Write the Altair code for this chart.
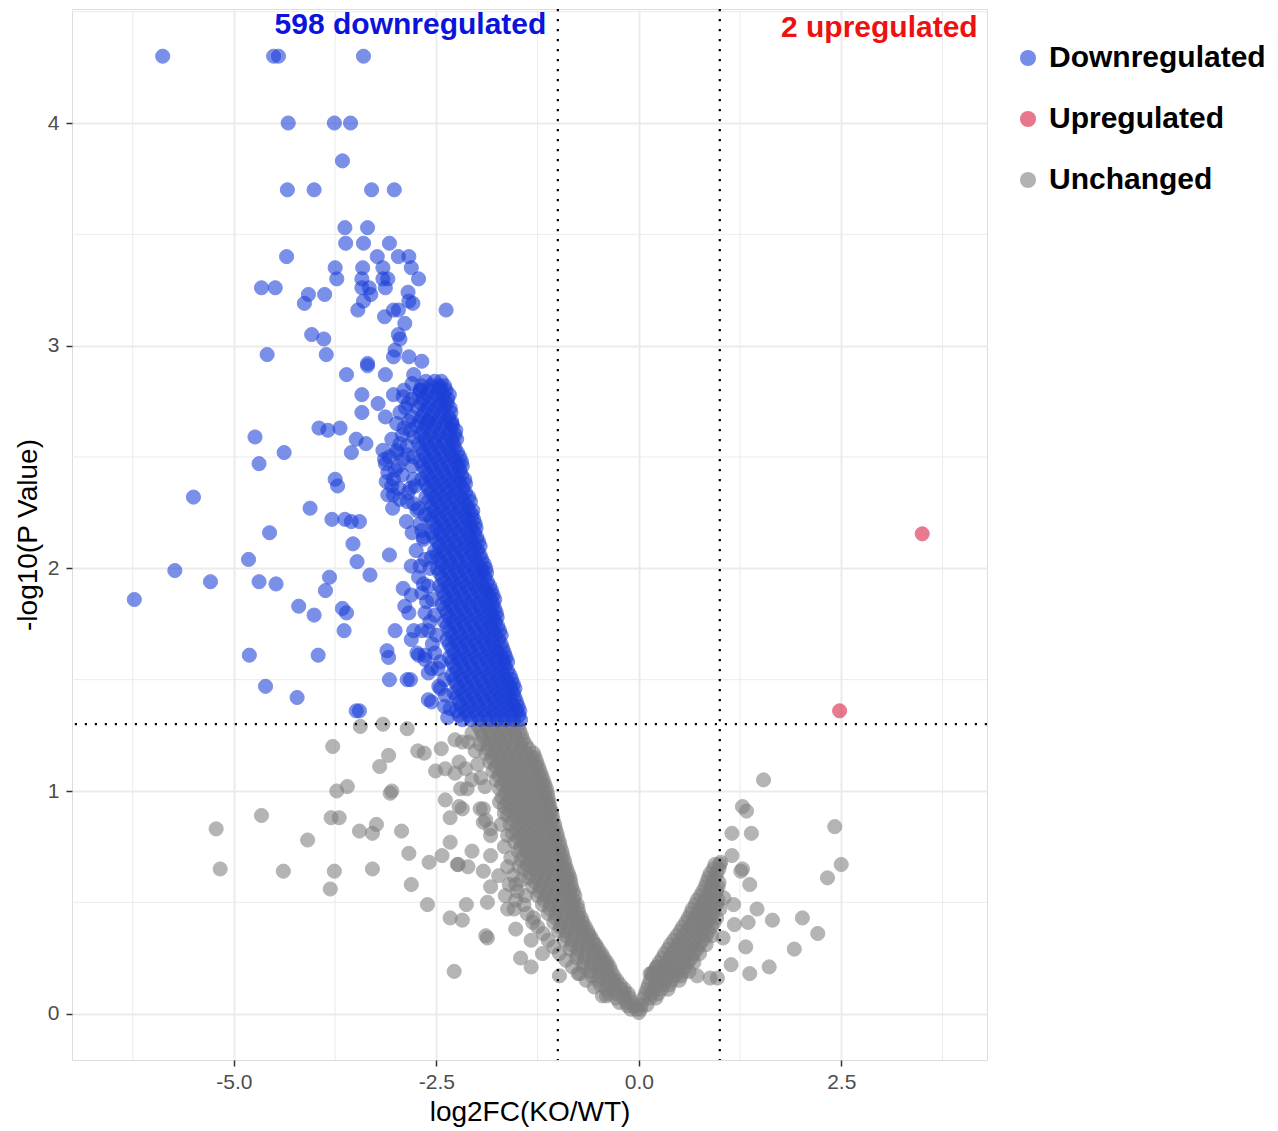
import altair as alt
import pandas as pd

# ---------------- data ----------------
categories = ["Downregulated", "Upregulated", "Unchanged"]
palette = ["#1c3fd8", "#d81b3f", "#7f7f7f"]

up_points = [(3.50, 2.155), (2.48, 1.36)]

down_scatter = [
    (-5.88, 4.30), (-4.51, 4.30), (-4.45, 4.30), (-3.40, 4.30),
    (-4.33, 4.00), (-3.76, 4.00), (-3.56, 4.00), (-3.66, 3.83),
    (-4.34, 3.70), (-4.01, 3.70), (-3.30, 3.70), (-3.02, 3.70),
    (-3.63, 3.53), (-3.35, 3.53), (-3.62, 3.46), (-3.40, 3.46), (-3.08, 3.46),
    (-4.35, 3.40), (-3.23, 3.40), (-2.97, 3.40), (-2.84, 3.40),
    (-3.75, 3.35), (-3.41, 3.35), (-3.16, 3.35), (-2.81, 3.35),
    (-3.73, 3.30), (-3.42, 3.30), (-3.16, 3.30), (-3.10, 3.30), (-2.72, 3.30),
    (-4.66, 3.26), (-4.49, 3.26), (-3.42, 3.26), (-3.33, 3.26), (-3.13, 3.26),
    (-4.08, 3.23), (-3.88, 3.23), (-3.31, 3.23), (-2.85, 3.24), (-2.84, 3.20),
    (-4.13, 3.19), (-3.40, 3.20), (-2.79, 3.19),
    (-3.47, 3.16), (-3.03, 3.16), (-2.97, 3.16), (-2.38, 3.16),
    (-3.14, 3.13), (-2.89, 3.10),
    (-4.04, 3.05), (-3.89, 3.03), (-2.97, 3.05), (-2.95, 3.03),
    (-4.59, 2.96), (-3.86, 2.96), (-3.01, 2.98), (-3.03, 2.95), (-2.84, 2.95),
    (-2.68, 2.93), (-3.35, 2.92),
    (-3.61, 2.87), (-3.35, 2.91), (-3.13, 2.87), (-2.78, 2.87),
    (-3.42, 2.78), (-3.22, 2.74), (-3.03, 2.78), (-2.91, 2.77), (-2.70, 2.80), (-2.45, 2.81),
    (-3.42, 2.70), (-3.13, 2.68), (-2.99, 2.65), (-2.84, 2.66), (-2.60, 2.66), (-2.31, 2.65),
    (-3.95, 2.63), (-3.84, 2.62), (-3.69, 2.63), (-4.74, 2.59), (-3.49, 2.58),
    (-3.37, 2.56), (-2.82, 2.62),
    (-4.38, 2.52), (-3.55, 2.52), (-3.16, 2.53), (-2.99, 2.53),
    (-4.69, 2.47), (-3.13, 2.47), (-3.01, 2.44), (-2.91, 2.49),
    (-3.75, 2.40), (-3.72, 2.37), (-3.05, 2.37), (-2.82, 2.36),
    (-5.50, 2.32), (-3.03, 2.33), (-2.86, 2.30), (-3.04, 2.27), (-4.06, 2.27),
    (-2.74, 2.26), (-2.87, 2.21),
    (-4.56, 2.16), (-3.79, 2.22), (-3.63, 2.22), (-3.55, 2.21), (-3.45, 2.21), (-2.66, 2.14),
    (-3.53, 2.11), (-4.82, 2.04), (-3.48, 2.03), (-3.08, 2.06),
    (-5.73, 1.99), (-5.29, 1.94), (-4.69, 1.94), (-4.48, 1.93), (-3.82, 1.96),
    (-3.32, 1.97), (-2.81, 2.01),
    (-3.87, 1.90), (-2.91, 1.91), (-2.81, 1.88),
    (-6.23, 1.86), (-4.20, 1.83), (-4.01, 1.79), (-3.66, 1.82), (-3.61, 1.80),
    (-2.89, 1.83), (-2.84, 1.80),
    (-3.64, 1.72), (-3.01, 1.72), (-2.78, 1.72), (-2.81, 1.68),
    (-4.81, 1.61), (-3.96, 1.61), (-3.11, 1.63), (-3.09, 1.60), (-2.74, 1.62), (-2.64, 1.61),
    (-4.61, 1.47), (-3.08, 1.50), (-2.86, 1.50), (-2.82, 1.50),
    (-4.22, 1.42), (-2.60, 1.41), (-3.49, 1.36), (-3.45, 1.36),
    (-2.64, 1.80), (-2.52, 1.79), (-2.68, 1.72), (-2.60, 1.72), (-2.72, 1.61),
    (-2.64, 1.59), (-2.60, 1.53), (-2.56, 1.55), (-2.56, 1.40), (-2.39, 1.43),
    (-2.47, 1.47), (-2.33, 1.37), (-2.68, 1.89), (-2.60, 1.92), (-2.72, 1.96),
    (-2.64, 2.04), (-2.56, 2.05), (-2.68, 2.17), (-2.66, 2.13), (-3.10, 2.33),
    (-2.97, 2.36), (-2.76, 2.37), (-2.72, 2.27), (-2.64, 2.24), (-3.14, 2.49),
    (-2.99, 2.52), (-2.97, 2.46), (-3.10, 2.43), (-3.03, 2.40),
    (-2.88, 2.72), (-2.80, 2.76), (-2.92, 2.60), (-2.86, 2.55), (-2.78, 2.50),
    (-2.58, 2.00), (-2.55, 1.86), (-2.50, 1.70), (-2.45, 1.58), (-2.40, 1.50),
    (-2.80, 2.83), (-2.90, 2.80), (-2.85, 2.74), (-2.95, 2.70), (-2.80, 2.68),
    (-2.90, 2.63), (-2.78, 2.59), (-3.05, 2.58), (-2.95, 2.56), (-2.85, 2.51),
    (-3.08, 2.50), (-2.80, 2.46), (-2.92, 2.42), (-3.12, 2.39), (-2.78, 2.40),
    (-2.85, 2.34), (-2.95, 2.31), (-2.78, 2.29), (-2.70, 2.20), (-2.80, 2.16),
    (-2.75, 2.08), (-2.70, 2.01), (-2.66, 1.93), (-2.62, 1.85), (-2.58, 1.76),
    (-2.55, 1.66), (-2.52, 1.62), (-2.48, 1.55), (-2.45, 1.46), (-2.40, 1.38),
    (-2.36, 1.33),
]

# dense downregulated band: (y, x values across the band)
down_band_rows = [
    (2.84, [-2.63, -2.52, -2.44]),
    (2.82, [-2.68, -2.57, -2.47, -2.40]),
    (2.80, [-2.70, -2.58, -2.47, -2.38]),
    (2.78, [-2.72, -2.61, -2.50, -2.41, -2.34]),
    (2.76, [-2.66, -2.55, -2.43, -2.36]),
    (2.74, [-2.69, -2.58, -2.46, -2.37]),
    (2.72, [-2.73, -2.61, -2.50, -2.40, -2.33]),
    (2.70, [-2.65, -2.54, -2.43, -2.32]),
    (2.68, [-2.68, -2.57, -2.46, -2.35]),
    (2.66, [-2.71, -2.60, -2.49, -2.38, -2.31]),
    (2.64, [-2.74, -2.63, -2.52, -2.41, -2.30]),
    (2.62, [-2.66, -2.55, -2.44, -2.33, -2.26]),
    (2.60, [-2.69, -2.58, -2.47, -2.36, -2.27]),
    (2.58, [-2.64, -2.53, -2.42, -2.31, -2.25]),
    (2.56, [-2.72, -2.62, -2.51, -2.40, -2.29]),
    (2.54, [-2.69, -2.58, -2.47, -2.36, -2.27]),
    (2.52, [-2.66, -2.55, -2.44, -2.33, -2.24]),
    (2.50, [-2.63, -2.52, -2.41, -2.30, -2.21]),
    (2.48, [-2.70, -2.59, -2.48, -2.37, -2.26, -2.19]),
    (2.46, [-2.67, -2.56, -2.45, -2.34, -2.23, -2.18]),
    (2.44, [-2.64, -2.53, -2.42, -2.31, -2.21]),
    (2.42, [-2.61, -2.50, -2.39, -2.28, -2.19]),
    (2.40, [-2.68, -2.57, -2.46, -2.35, -2.24, -2.15]),
    (2.38, [-2.64, -2.53, -2.42, -2.31, -2.21, -2.14]),
    (2.36, [-2.60, -2.49, -2.38, -2.27, -2.17]),
    (2.34, [-2.57, -2.46, -2.35, -2.24, -2.14]),
    (2.32, [-2.63, -2.52, -2.41, -2.30, -2.19, -2.10]),
    (2.30, [-2.60, -2.49, -2.38, -2.27, -2.16, -2.08]),
    (2.28, [-2.56, -2.45, -2.34, -2.23, -2.12]),
    (2.26, [-2.53, -2.42, -2.31, -2.20, -2.10, -2.05]),
    (2.24, [-2.59, -2.48, -2.37, -2.26, -2.15, -2.06]),
    (2.22, [-2.56, -2.45, -2.34, -2.23, -2.12, -2.04]),
    (2.20, [-2.53, -2.42, -2.31, -2.20, -2.09, -2.02]),
    (2.18, [-2.50, -2.39, -2.28, -2.17, -2.07, -2.01]),
    (2.16, [-2.56, -2.45, -2.34, -2.23, -2.12, -2.03]),
    (2.14, [-2.53, -2.42, -2.31, -2.20, -2.09, -2.00]),
    (2.12, [-2.49, -2.38, -2.27, -2.16, -2.06, -1.98]),
    (2.10, [-2.46, -2.35, -2.24, -2.13, -2.03, -1.96]),
    (2.08, [-2.52, -2.41, -2.30, -2.19, -2.08, -1.99]),
    (2.06, [-2.49, -2.38, -2.27, -2.16, -2.05, -1.96]),
    (2.04, [-2.46, -2.35, -2.24, -2.13, -2.02, -1.94]),
    (2.02, [-2.43, -2.32, -2.21, -2.10, -2.00, -1.91]),
    (2.00, [-2.49, -2.38, -2.27, -2.16, -2.05, -1.95, -1.89]),
    (1.98, [-2.46, -2.35, -2.24, -2.13, -2.02, -1.93, -1.88]),
    (1.96, [-2.43, -2.32, -2.21, -2.10, -1.99, -1.90]),
    (1.94, [-2.40, -2.29, -2.18, -2.07, -1.96, -1.87]),
    (1.92, [-2.46, -2.35, -2.24, -2.13, -2.02, -1.92, -1.84]),
    (1.90, [-2.43, -2.32, -2.21, -2.10, -1.99, -1.89, -1.82]),
    (1.88, [-2.40, -2.29, -2.18, -2.07, -1.96, -1.86, -1.80]),
    (1.86, [-2.37, -2.26, -2.15, -2.04, -1.93, -1.83, -1.78]),
    (1.84, [-2.43, -2.32, -2.21, -2.10, -1.99, -1.89, -1.80]),
    (1.82, [-2.40, -2.29, -2.18, -2.07, -1.96, -1.86, -1.78]),
    (1.80, [-2.37, -2.26, -2.15, -2.04, -1.93, -1.83, -1.76]),
    (1.78, [-2.34, -2.23, -2.12, -2.01, -1.90, -1.80, -1.75]),
    (1.76, [-2.40, -2.29, -2.18, -2.07, -1.96, -1.86, -1.77]),
    (1.74, [-2.37, -2.26, -2.15, -2.04, -1.93, -1.83, -1.74]),
    (1.72, [-2.34, -2.23, -2.12, -2.01, -1.90, -1.80, -1.72]),
    (1.70, [-2.31, -2.20, -2.09, -1.98, -1.87, -1.77, -1.70]),
    (1.68, [-2.37, -2.26, -2.15, -2.04, -1.93, -1.83, -1.73]),
    (1.66, [-2.34, -2.23, -2.12, -2.01, -1.90, -1.80, -1.70]),
    (1.64, [-2.31, -2.20, -2.09, -1.98, -1.87, -1.77, -1.68]),
    (1.62, [-2.28, -2.17, -2.06, -1.95, -1.84, -1.74, -1.66]),
    (1.60, [-2.34, -2.23, -2.12, -2.01, -1.90, -1.80, -1.70, -1.64]),
    (1.58, [-2.31, -2.20, -2.09, -1.98, -1.87, -1.77, -1.67, -1.62]),
    (1.56, [-2.28, -2.17, -2.06, -1.95, -1.84, -1.74, -1.65]),
    (1.54, [-2.25, -2.14, -2.03, -1.92, -1.81, -1.71, -1.62]),
    (1.52, [-2.31, -2.20, -2.09, -1.98, -1.87, -1.77, -1.67, -1.59]),
    (1.50, [-2.28, -2.17, -2.06, -1.95, -1.84, -1.74, -1.64, -1.57]),
    (1.48, [-2.25, -2.14, -2.03, -1.92, -1.81, -1.71, -1.61, -1.55]),
    (1.46, [-2.22, -2.11, -2.00, -1.89, -1.78, -1.68, -1.58, -1.53]),
    (1.44, [-2.28, -2.17, -2.06, -1.95, -1.84, -1.74, -1.64, -1.55]),
    (1.42, [-2.25, -2.14, -2.03, -1.92, -1.81, -1.71, -1.61, -1.53]),
    (1.40, [-2.22, -2.11, -2.00, -1.89, -1.78, -1.68, -1.58, -1.51]),
    (1.38, [-2.19, -2.08, -1.97, -1.86, -1.75, -1.65, -1.55, -1.49]),
    (1.36, [-2.25, -2.14, -2.03, -1.92, -1.81, -1.71, -1.61, -1.51, -1.47]),
    (1.34, [-2.22, -2.11, -2.00, -1.89, -1.78, -1.68, -1.58, -1.48]),
    (1.32, [-2.18, -2.07, -1.96, -1.85, -1.75, -1.65, -1.55, -1.46]),
]

grey_scatter = [
    (-3.44, 1.29), (-3.16, 1.30), (-2.86, 1.28), (-3.78, 1.20), (-3.09, 1.16),
    (-3.20, 1.11), (-2.73, 1.18), (-2.65, 1.17), (-2.44, 1.19), (-2.51, 1.09), (-2.39, 1.10),
    (-3.60, 1.02), (-3.73, 1.00), (-3.07, 0.99), (-3.05, 1.00), (-2.39, 0.96),
    (-2.22, 0.93), (-2.33, 0.88),
    (-4.66, 0.89), (-5.22, 0.83), (-3.80, 0.88), (-3.70, 0.88), (-3.45, 0.82),
    (-3.29, 0.81), (-3.24, 0.85), (-2.93, 0.82),
    (-4.09, 0.78), (-2.33, 0.77), (-2.84, 0.72), (-2.59, 0.68), (-2.43, 0.71),
    (-2.24, 0.67), (-2.11, 0.66), (-2.06, 0.73),
    (-5.17, 0.65), (-4.39, 0.64), (-3.76, 0.64), (-3.81, 0.56), (-3.29, 0.65), (-2.81, 0.58),
    (-2.61, 0.49), (-2.13, 0.49), (-2.33, 0.43), (-2.18, 0.42), (-1.89, 0.35), (-2.28, 0.19),
    (-2.27, 1.08), (-2.18, 0.92), (-1.92, 0.92), (-1.92, 0.86), (-1.83, 0.83),
    (-1.83, 0.80), (-2.23, 0.67), (-1.92, 0.64), (-1.83, 0.71), (-1.73, 0.62),
    (-1.83, 0.57), (-1.65, 0.53), (-1.52, 0.58), (-1.40, 0.53), (-1.87, 0.50),
    (-1.62, 0.47), (-1.54, 0.47), (-1.31, 0.41), (-1.52, 0.38), (-1.87, 0.34),
    (-1.33, 0.33), (-1.19, 0.27), (-1.46, 0.25), (-1.33, 0.21), (-0.98, 0.17),
    (-0.75, 0.18), (-0.40, 0.08), (0.14, 0.18), (0.22, 0.21),
    (-2.27, 1.23), (-2.18, 1.22), (-2.10, 1.22), (-2.22, 1.13), (-2.14, 1.10),
    (-2.06, 1.05), (-2.20, 1.01), (-2.12, 1.01), (-1.96, 0.92), (-1.89, 0.87),
    (-1.72, 0.95), (-1.66, 0.90), (-1.70, 0.85), (-1.62, 0.80), (-1.66, 0.75),
    (-1.58, 0.70), (-1.62, 0.66), (-1.55, 0.62), (-1.60, 0.58), (-1.50, 0.55),
    (-1.45, 0.60), (-1.48, 0.66), (-1.52, 0.51), (-1.42, 0.49), (-1.38, 0.45),
    (-1.30, 0.43), (-1.25, 0.39), (-1.18, 0.36), (-1.12, 0.33), (-1.05, 0.30),
    (-0.98, 0.27), (-0.90, 0.24), (-0.82, 0.21), (-0.73, 0.18), (-0.65, 0.15),
    (-0.55, 0.12), (-0.45, 0.08),
    (-2.02, 1.18), (-2.06, 1.26), (-1.99, 1.12), (-1.95, 1.06), (-1.90, 1.02),
    (1.54, 1.05), (1.28, 0.93), (1.33, 0.91), (1.15, 0.81), (1.39, 0.81), (2.42, 0.84),
    (1.15, 0.71), (1.01, 0.68), (1.28, 0.65), (1.26, 0.64), (1.37, 0.58), (2.50, 0.67),
    (2.33, 0.61), (1.17, 0.49), (1.46, 0.47), (1.05, 0.52), (1.18, 0.40), (1.35, 0.41),
    (1.65, 0.42), (2.02, 0.43), (2.21, 0.36), (1.04, 0.34), (1.32, 0.30), (1.92, 0.29),
    (1.14, 0.22), (1.61, 0.21), (1.37, 0.18), (0.97, 0.16), (0.88, 0.16), (0.16, 0.18),
    (0.72, 0.17),
]

# dense unchanged band (left arm and right arm of the V)
grey_band_rows = [
    (1.29, [-1.98, -1.88, -1.78, -1.68, -1.58, -1.49]),
    (1.27, [-1.95, -1.85, -1.75, -1.65, -1.55, -1.47]),
    (1.25, [-1.93, -1.83, -1.73, -1.63, -1.53, -1.45]),
    (1.23, [-1.91, -1.81, -1.71, -1.61, -1.51, -1.43]),
    (1.21, [-1.96, -1.86, -1.76, -1.66, -1.56, -1.46, -1.40]),
    (1.19, [-1.86, -1.76, -1.66, -1.56, -1.46, -1.36]),
    (1.17, [-1.89, -1.79, -1.69, -1.59, -1.49, -1.39, -1.30]),
    (1.15, [-1.82, -1.72, -1.62, -1.52, -1.42, -1.32, -1.28]),
    (1.13, [-1.84, -1.74, -1.64, -1.54, -1.44, -1.34, -1.26]),
    (1.11, [-1.77, -1.67, -1.57, -1.47, -1.37, -1.27, -1.24]),
    (1.09, [-1.80, -1.70, -1.60, -1.50, -1.40, -1.30, -1.22]),
    (1.07, [-1.73, -1.63, -1.53, -1.43, -1.33, -1.23, -1.20]),
    (1.05, [-1.76, -1.66, -1.56, -1.46, -1.36, -1.26, -1.18]),
    (1.03, [-1.69, -1.59, -1.49, -1.39, -1.29, -1.19, -1.16]),
    (1.01, [-1.72, -1.62, -1.52, -1.42, -1.32, -1.22, -1.14]),
    (0.99, [-1.65, -1.55, -1.45, -1.35, -1.25, -1.16, -1.13]),
    (0.97, [-1.69, -1.59, -1.49, -1.39, -1.29, -1.19, -1.12]),
    (0.95, [-1.62, -1.52, -1.42, -1.32, -1.22, -1.13, -1.11]),
    (0.93, [-1.66, -1.56, -1.46, -1.36, -1.26, -1.16, -1.10]),
    (0.91, [-1.59, -1.49, -1.39, -1.29, -1.19, -1.10, -1.08]),
    (0.89, [-1.62, -1.52, -1.42, -1.32, -1.22, -1.12, -1.07]),
    (0.87, [-1.55, -1.45, -1.35, -1.25, -1.15, -1.06]),
    (0.85, [-1.59, -1.49, -1.39, -1.29, -1.19, -1.09, -1.04]),
    (0.83, [-1.52, -1.42, -1.32, -1.22, -1.12, -1.03]),
    (0.81, [-1.56, -1.46, -1.36, -1.26, -1.16, -1.06, -1.01]),
    (0.79, [-1.49, -1.39, -1.29, -1.19, -1.09, -1.00]),
    (0.77, [-1.53, -1.43, -1.33, -1.23, -1.13, -1.03, -0.98]),
    (0.75, [-1.46, -1.36, -1.26, -1.16, -1.06, -0.97]),
    (0.73, [-1.49, -1.39, -1.29, -1.19, -1.09, -0.99, -0.95]),
    (0.71, [-1.42, -1.32, -1.22, -1.12, -1.02, -0.94]),
    (0.69, [-1.45, -1.35, -1.25, -1.15, -1.05, -0.96, -0.92]),
    (0.67, [-1.38, -1.28, -1.18, -1.08, -0.99, -0.91]),
    (0.65, [-1.41, -1.31, -1.21, -1.11, -1.01, -0.92, -0.89]),
    (0.63, [-1.34, -1.24, -1.14, -1.04, -0.94, -0.87]),
    (0.61, [-1.36, -1.26, -1.16, -1.06, -0.96, -0.88, -0.85]),
    (0.59, [-1.28, -1.18, -1.08, -0.98, -0.89, -0.84]),
    (0.57, [-1.31, -1.21, -1.11, -1.01, -0.91, -0.83]),
    (0.55, [-1.23, -1.13, -1.03, -0.93, -0.85, -0.81]),
    (0.53, [-1.25, -1.15, -1.05, -0.95, -0.86, -0.79]),
    (0.51, [-1.17, -1.07, -0.97, -0.88, -0.80]),
    (0.49, [-1.19, -1.09, -0.99, -0.89, -0.81, -0.76]),
    (0.47, [-1.10, -1.00, -0.90, -0.82, -0.75]),
    (0.45, [-1.12, -1.02, -0.92, -0.82, -0.74]),
    (0.43, [-1.03, -0.93, -0.83, -0.75, -0.71]),
    (0.41, [-1.05, -0.95, -0.85, -0.76, -0.69]),
    (0.39, [-0.97, -0.87, -0.77, -0.69, -0.66]),
    (0.37, [-0.99, -0.89, -0.79, -0.70, -0.63]),
    (0.35, [-0.90, -0.80, -0.70, -0.62, -0.60]),
    (0.33, [-0.92, -0.82, -0.72, -0.63, -0.57]),
    (0.31, [-0.83, -0.73, -0.63, -0.55, -0.53]),
    (0.29, [-0.85, -0.75, -0.65, -0.56, -0.50]),
    (0.27, [-0.76, -0.66, -0.56, -0.49, -0.46]),
    (0.25, [-0.77, -0.67, -0.57, -0.48, -0.43]),
    (0.23, [-0.68, -0.58, -0.49, -0.42, -0.39]),
    (0.21, [-0.68, -0.58, -0.48, -0.40, -0.36]),
    (0.19, [-0.60, -0.50, -0.41, -0.34]),
    (0.17, [-0.58, -0.48, -0.38, -0.31]),
    (0.15, [-0.50, -0.40, -0.31, -0.27]),
    (0.13, [-0.48, -0.38, -0.29, -0.23]),
    (0.11, [-0.40, -0.31, -0.22, -0.18]),
    (0.09, [-0.37, -0.27, -0.18, -0.13]),
    (0.07, [-0.28, -0.19, -0.11]),
    (0.05, [-0.24, -0.15, -0.07]),
    (0.035, [-0.14, -0.06]),
    (0.02, [-0.10, -0.03, 0.02]),
    (0.005, [0.0]),
    (0.04, [0.03, 0.10]),
    (0.07, [0.06, 0.14, 0.21]),
    (0.09, [0.08, 0.16, 0.24]),
    (0.11, [0.10, 0.19, 0.28, 0.36]),
    (0.13, [0.12, 0.21, 0.30, 0.38]),
    (0.15, [0.14, 0.23, 0.32, 0.41, 0.50]),
    (0.17, [0.17, 0.26, 0.35, 0.44, 0.52]),
    (0.19, [0.19, 0.28, 0.37, 0.46, 0.55, 0.62]),
    (0.21, [0.22, 0.31, 0.40, 0.49, 0.58]),
    (0.23, [0.25, 0.34, 0.43, 0.52, 0.61, 0.68]),
    (0.25, [0.29, 0.38, 0.47, 0.56, 0.65]),
    (0.27, [0.32, 0.41, 0.50, 0.59, 0.68, 0.75]),
    (0.29, [0.36, 0.45, 0.54, 0.63, 0.72]),
    (0.31, [0.39, 0.48, 0.57, 0.66, 0.75, 0.83]),
    (0.33, [0.43, 0.52, 0.61, 0.70, 0.79]),
    (0.35, [0.47, 0.56, 0.65, 0.74, 0.83, 0.90]),
    (0.37, [0.51, 0.60, 0.69, 0.78, 0.86]),
    (0.39, [0.54, 0.63, 0.72, 0.81, 0.90]),
    (0.41, [0.58, 0.67, 0.76, 0.85, 0.93]),
    (0.43, [0.61, 0.70, 0.79, 0.88, 0.96]),
    (0.45, [0.64, 0.73, 0.82, 0.91]),
    (0.47, [0.66, 0.75, 0.84, 0.93, 1.00]),
    (0.49, [0.70, 0.79, 0.88, 0.96]),
    (0.51, [0.72, 0.81, 0.90, 0.98]),
    (0.53, [0.76, 0.85, 0.94]),
    (0.55, [0.79, 0.88, 0.96]),
    (0.57, [0.82, 0.90, 0.98]),
    (0.59, [0.84, 0.92, 0.99]),
    (0.61, [0.86, 0.94]),
    (0.63, [0.88, 0.96]),
    (0.65, [0.92, 0.99]),
    (0.67, [0.94, 1.00]),
]

ann_text = ["598 downregulated", "2 upregulated"]
ann_x = [-2.82, 2.97]
ann_y = [4.44, 4.425]
ann_color = ["#0a14dc", "#ee1111"]

x_ticks = [-5.0, -2.5, 0.0, 2.5]
x_minor = [-6.25, -3.75, -1.25, 1.25, 3.75]
y_ticks = [0, 1, 2, 3, 4]
y_minor = [0.5, 1.5, 2.5, 3.5, 4.5]
fc_cut = [-1.0, 1.0]
p_cut = [1.3]

# ---------------- tables ----------------
rows = []
for x, y in grey_scatter:
    rows.append({"x": x, "y": y, "group": "Unchanged"})
for y, xs_ in grey_band_rows:
    for x in xs_:
        rows.append({"x": x, "y": y, "group": "Unchanged"})
for x, y in down_scatter:
    rows.append({"x": x, "y": y, "group": "Downregulated"})
for y, xs_ in down_band_rows:
    for x in xs_:
        rows.append({"x": x, "y": y, "group": "Downregulated"})
for x, y in up_points:
    rows.append({"x": x, "y": y, "group": "Upregulated"})
df = pd.DataFrame(rows)

FONT = "Liberation Sans"
xs = alt.Scale(domain=[-7.0, 4.30], nice=False, zero=False)
ys = alt.Scale(domain=[-0.208, 4.512], nice=False, zero=False)
cscale = alt.Scale(domain=categories, range=palette)

x_axis = alt.Axis(
    values=x_ticks, format=".1f", title="log2FC(KO/WT)",
    labelExpr="replace(datum.label, '\u2212', '-')",
    grid=True, gridColor="#ebebeb", gridWidth=2,
    domain=False, tickColor="#333333", tickSize=6, tickWidth=1.5,
    labelFontSize=21, labelColor="#4d4d4d", labelPadding=5,
    titleFontSize=28, titleFontWeight="normal", titleColor="black",
    titlePadding=6, labelFont=FONT, titleFont=FONT,
)
y_axis = alt.Axis(
    values=y_ticks, format="d", title="-log10(P Value)",
    grid=True, gridColor="#ebebeb", gridWidth=2,
    domain=False, tickColor="#333333", tickSize=6, tickWidth=1.5,
    labelFontSize=21, labelColor="#4d4d4d", labelPadding=7,
    titleFontSize=28, titleFontWeight="normal", titleColor="black",
    titlePadding=5, labelFont=FONT, titleFont=FONT,
)

minor_x = alt.Chart(pd.DataFrame({"x": x_minor})).mark_rule(
    color="#ebebeb", strokeWidth=1.0
).encode(x=alt.X("x:Q", scale=xs, axis=x_axis))

minor_y = alt.Chart(pd.DataFrame({"y": y_minor})).mark_rule(
    color="#ebebeb", strokeWidth=1.0
).encode(y=alt.Y("y:Q", scale=ys, axis=y_axis))

points = alt.Chart(df).mark_circle(size=200, opacity=0.58, strokeWidth=1).encode(
    x=alt.X("x:Q", scale=xs, axis=x_axis),
    y=alt.Y("y:Q", scale=ys, axis=y_axis),
    color=alt.Color(
        "group:N", scale=cscale,
        legend=alt.Legend(
            title=None, orient="none", legendX=941, legendY=34, padding=0,
            rowPadding=31, labelOffset=6, symbolSize=260, symbolType="circle",
            symbolOpacity=0.6, symbolStrokeWidth=0, labelFontSize=30,
            labelFontWeight="bold", labelFont=FONT, labelColor="black",
            labelLimit=400,
        ),
    ),
    stroke=alt.Stroke("group:N", scale=cscale, legend=None),
)

vlines = alt.Chart(pd.DataFrame({"x": fc_cut})).mark_rule(
    color="black", strokeDash=[2.2, 7.8], strokeWidth=2.2
).encode(x=alt.X("x:Q", scale=xs, axis=x_axis))

hline = alt.Chart(pd.DataFrame({"y": p_cut})).mark_rule(
    color="black", strokeDash=[2.2, 7.8], strokeWidth=2.2
).encode(y=alt.Y("y:Q", scale=ys, axis=y_axis))

ann = alt.Chart(
    pd.DataFrame({"label": ann_text, "x": ann_x, "y": ann_y, "c": ann_color})
).mark_text(fontSize=30, fontWeight="bold", font=FONT, align="center", baseline="middle").encode(
    x=alt.X("x:Q", scale=xs, axis=x_axis),
    y=alt.Y("y:Q", scale=ys, axis=y_axis),
    text="label:N",
    color=alt.Color("c:N", scale=None, legend=None),
)

chart = alt.layer(minor_x, minor_y, points, vlines, hline, ann).properties(
    width=915,
    height=1051,
    padding={"left": 64, "top": 1, "right": 283, "bottom": 72},
    autosize=alt.AutoSizeParams(type="none"),
).configure_view(
    stroke="#444444", strokeWidth=1.6
).configure(font=FONT)

chart.save("out.html", embed_options={"renderer": "svg", "actions": False})
